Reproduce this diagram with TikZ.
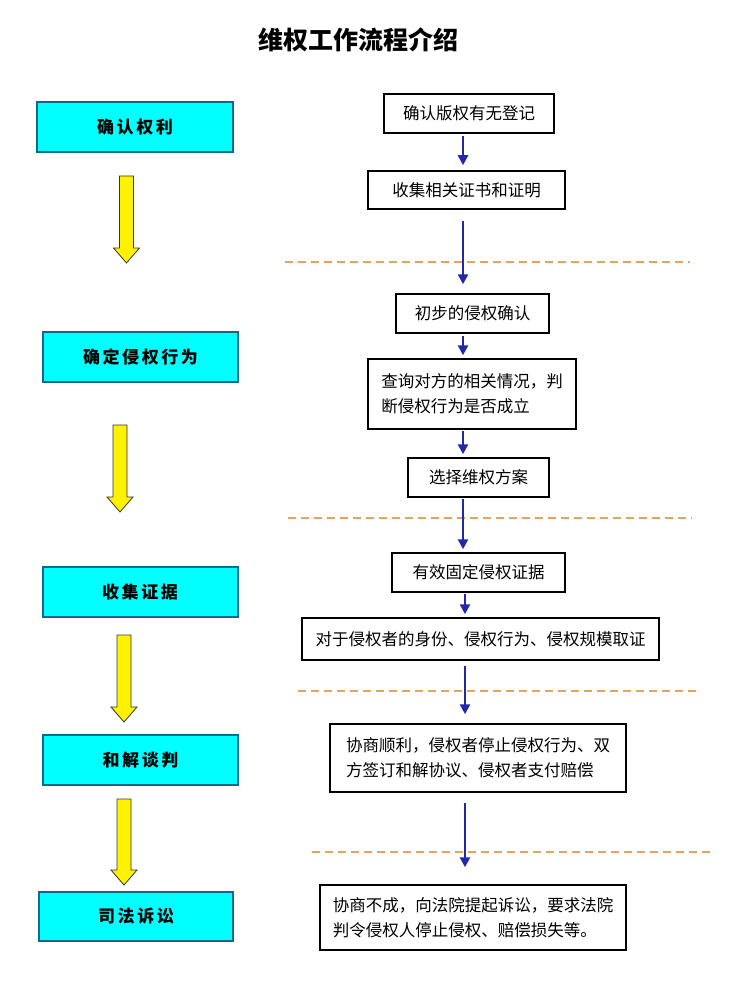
\documentclass[tikz,border=0pt]{standalone}
\usepackage{fontspec}
\newfontfamily\cjk{Noto Sans CJK SC}
\newfontfamily\cjkwide[LetterSpace=15]{Noto Sans CJK SC}
\usetikzlibrary{arrows.meta}

\definecolor{stagefill}{RGB}{0,255,255}
\definecolor{stageline}{RGB}{10,105,140}
\definecolor{flowblue}{RGB}{35,40,170}
\definecolor{cutline}{RGB}{225,165,95}

\tikzset{
  stage/.style={draw=stageline, fill=stagefill, line width=2pt,
    minimum width=195, minimum height=50, inner sep=0pt,
    font=\cjkwide\bfseries\fontsize{17}{20}\selectfont},
  task/.style={draw=black, line width=1.5pt, inner sep=0pt, align=left,
    font=\cjk\fontsize{16.5}{25}\selectfont},
  flow/.style={flowblue, line width=2.5pt, -{Triangle[length=10pt, width=10pt]}},
  cut/.style={cutline, line width=1.2pt, dash pattern=on 8pt off 5pt},
  hint/.style={fill=yellow, draw=black!80, line width=0.8pt},
}

\begin{document}
\begin{tikzpicture}[x=1pt,y=-1pt]
\useasboundingbox (0,0) rectangle (735,1000);
\fill[white] (0,0) rectangle (735,1000);

\node[font=\cjk\bfseries\fontsize{25}{30}\selectfont] (title) at (358,40) {维权工作流程介绍};

% left column: the five stages
\node[stage, minimum width=196] (rights) at (135,127) {确认权利};
\node[stage] (infringe) at (140.5,357) {确定侵权行为};
\node[stage] (evidence) at (140,592) {收集证据};
\node[stage] (settle) at (140.5,760) {和解谈判};
\node[stage, minimum width=194, minimum height=49] (lawsuit) at (136,916.5) {司法诉讼};

% yellow arrows between stages
\foreach \cx/\top/\tip in {126.5/176/263, 120/425/512, 124/635/722, 124/799/885}
  \filldraw[hint] ({\cx-7},\top) -- ({\cx+7},\top) -- ({\cx+7},{\tip-15})
    -- ({\cx+13},{\tip-15}) -- (\cx,\tip) -- ({\cx-13},{\tip-15})
    -- ({\cx-7},{\tip-15}) -- cycle;

% right column: steps
\coordinate (axisA) at (463,0);
\coordinate (axisB) at (465,0);
\node[task, minimum width=170, minimum height=39] (register) at (469,113.5) {确认版权有无登记};
\node[task, minimum width=197, minimum height=38] (certs) at (466.5,190) {收集相关证书和证明};
\node[task, minimum width=153, minimum height=39] (firstcheck) at (472.5,313.5) {初步的侵权确认};
\node[task, minimum width=208, minimum height=70] (inquire) at (472,394) {查询对方的相关情况，判\\断侵权行为是否成立};
\node[task, minimum width=141, minimum height=39] (plan) at (478.5,477.5) {选择维权方案};
\node[task, minimum width=173, minimum height=39] (fixproof) at (478.5,572.5) {有效固定侵权证据};
\node[task, minimum width=357, minimum height=42] (collect) at (480.5,639) {对于侵权者的身份、侵权行为、侵权规模取证};
\node[task, minimum width=296, minimum height=68] (agree) at (478,758) {协商顺利，侵权者停止侵权行为、双\\方签订和解协议、侵权者支付赔偿};
\node[task, minimum width=306, minimum height=65] (court) at (473,917.5) {协商不成，向法院提起诉讼，要求法院\\判令侵权人停止侵权、赔偿损失等。};

% dashed separators
\draw[cut] (285,262) -- (690,262);
\draw[cut] (288,518) -- (692,518);
\draw[cut] (298,691) -- (700,691);
\draw[cut] (312,852) -- (715,852);

% blue flow arrows
\draw[flow, shorten <=2pt, shorten >=5pt] (register.south -| axisA) -- (certs.north -| axisA);
\draw[flow, shorten <=11pt, shorten >=9pt] (certs.south -| axisA) -- (firstcheck.north -| axisA);
\draw[flow, shorten <=2pt, shorten >=3pt] (firstcheck.south -| axisA) -- (inquire.north -| axisA);
\draw[flow, shorten <=1pt, shorten >=3pt] (inquire.south -| axisA) -- (plan.north -| axisA);
\draw[flow, shorten <=1pt, shorten >=3pt] (plan.south -| axisA) -- (fixproof.north -| axisA);
\draw[flow, shorten <=1pt, shorten >=3pt] (fixproof.south -| axisB) -- (collect.north -| axisB);
\draw[flow, shorten <=5pt, shorten >=9pt] (collect.south -| axisB) -- (agree.north -| axisB);
\draw[flow, shorten <=10pt, shorten >=17pt] (agree.south -| axisB) -- (court.north -| axisB);
\end{tikzpicture}
\end{document}
